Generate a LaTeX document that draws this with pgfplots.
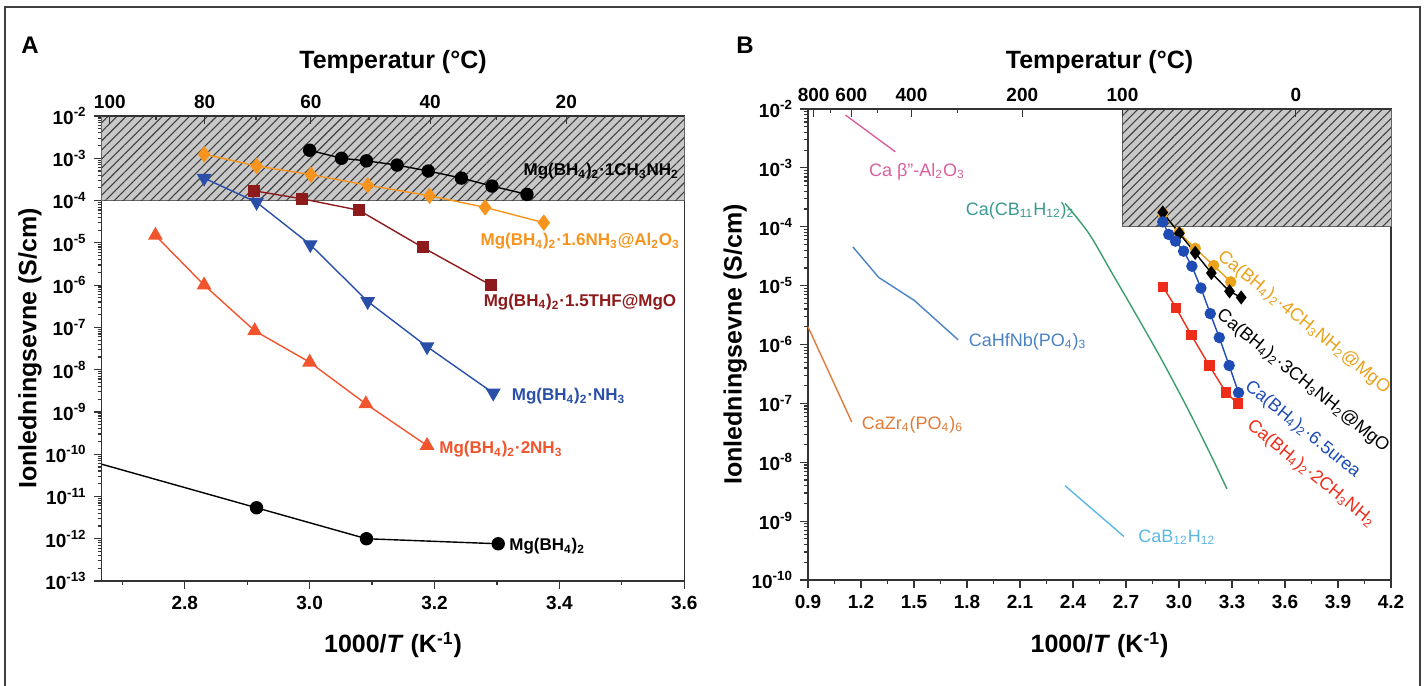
\documentclass[border=0pt]{standalone}
\usepackage{fontspec}
\setmainfont{Liberation Sans}
\usepackage{pgfplots}
\pgfplotsset{compat=1.18}
\usetikzlibrary{patterns.meta}

\definecolor{hatchgray}{HTML}{C8C8C8}
\definecolor{aOrange}{HTML}{F7941D}
\definecolor{aBlue}{HTML}{2A4FA8}
\definecolor{aBrown}{HTML}{8E1B1B}
\definecolor{aRed}{HTML}{F2542D}
\definecolor{bPink}{HTML}{D9609E}
\definecolor{bGreen}{HTML}{3C9E6C}
\definecolor{bTeal}{HTML}{3A9A90}
\definecolor{bHf}{HTML}{4A82C6}
\definecolor{bZr}{HTML}{E07B39}
\definecolor{bSky}{HTML}{5CB6E6}
\definecolor{bOrange}{HTML}{E9A21C}
\definecolor{bBlue}{HTML}{1E4CB4}
\definecolor{bRed}{HTML}{EE2C1A}

% minor ticks 2..9 in every decade
\newcommand\mkminors[3]{%
  \gdef#1{}%
  \foreach \e in {#2,...,#3}{\foreach \m in {2,...,9}{\xdef#1{#1\ifx#1\empty\else,\fi\m e\e}}}}
\mkminors\minorsA{-13}{-3}
\mkminors\minorsB{-10}{-3}

\pgfplotsset{
  common/.style={
    scale only axis, anchor=south west, clip=false,
    major tick length=4pt, minor tick length=2pt,
    every tick/.style={line width=0.6pt, black!80},
    axis line style={line width=0.8pt, black!80},
    tick label style={font=\bfseries\fontsize{9.5}{11}\selectfont},
    label style={font=\bfseries\fontsize{12.5}{14}\selectfont},
  },
}
\tikzset{
  hatch/.style={draw=black!60, line width=0.5pt, fill=hatchgray,
    postaction={pattern={Lines[angle=45,distance=3.2pt,line width=0.55pt]}, pattern color=black!75}},
}

\begin{document}
\begin{tikzpicture}
\useasboundingbox (0pt,0pt) rectangle (713pt,-343pt);
\draw[line width=0.8pt, black!75] (2.5pt,-3.5pt) rectangle (710pt,-360pt);

\node[font=\bfseries\fontsize{12}{14}\selectfont] at (15pt,-22.5pt) {A};
\node[font=\bfseries\fontsize{12}{14}\selectfont] at (372.5pt,-22.5pt) {B};

% ---------------- panel A ----------------
\begin{axis}[common, at={(50.85pt,-290.5pt)}, width=291.3pt, height=232.5pt,
  xmin=2.667, xmax=3.6, ymode=log, log basis y=10, ymin=1e-13, ymax=1e-2,
  tick pos=left, tick align=outside,
  xtick={2.8,3.0,3.2,3.4,3.6}, xticklabels={2.8,3.0,3.2,3.4,3.6},
  minor xtick={2.7,2.9,3.1,3.3,3.5},
  ytick={1e-13,1e-12,1e-11,1e-10,1e-9,1e-8,1e-7,1e-6,1e-5,1e-4,1e-3,1e-2},
  yticklabels={10\textsuperscript{-13},10\textsuperscript{-12},10\textsuperscript{-11},10\textsuperscript{-10},10\textsuperscript{-9},10\textsuperscript{-8},10\textsuperscript{-7},10\textsuperscript{-6},10\textsuperscript{-5},10\textsuperscript{-4},10\textsuperscript{-3},10\textsuperscript{-2}},
  minor ytick/.expanded={\minorsA},
  xlabel={1000/\textit{T} (K\textsuperscript{-1})},
  ylabel={Ionledningsevne (S/cm)},
  xlabel style={at={(axis description cs:0.5,-0.138)}, anchor=center},
  ylabel style={at={(axis description cs:-0.123,0.5)}, anchor=center},
]
\draw[hatch] (axis cs:2.667,1e-4) rectangle (axis cs:3.6,1e-2);

\addplot[color=black, line width=0.7pt, mark=*, mark size=3pt] coordinates {
  (3.000,1.55e-3) (3.051,1.0e-3) (3.091,8.7e-4) (3.140,6.9e-4)
  (3.190,5.0e-4) (3.243,3.4e-4) (3.292,2.2e-4) (3.348,1.4e-4)};
\addplot[color=aOrange, line width=0.7pt, mark=diamond*, mark size=3.6pt] coordinates {
  (2.831,1.25e-3) (2.915,6.6e-4) (3.002,4.1e-4) (3.093,2.3e-4)
  (3.192,1.3e-4) (3.281,6.9e-5) (3.375,3.0e-5)};
\addplot[color=aBrown, line width=0.7pt, mark=square*, mark size=2.6pt] coordinates {
  (2.911,1.7e-4) (2.988,1.1e-4) (3.079,5.9e-5) (3.181,7.8e-6) (3.290,1.0e-6)};
\addplot[color=aBlue, line width=0.7pt, mark=triangle*, mark size=3.6pt, mark options={rotate=180}] coordinates {
  (2.831,3.4e-4) (2.915,9.1e-5) (3.001,9.1e-6) (3.093,4.1e-7) (3.188,3.5e-8) (3.294,2.8e-9)};
\addplot[color=aRed, line width=0.7pt, mark=triangle*, mark size=3.6pt] coordinates {
  (2.753,1.5e-5) (2.831,1.0e-6) (2.912,8.3e-8) (3.000,1.5e-8) (3.090,1.55e-9) (3.188,1.6e-10)};
\addplot[color=black, line width=0.7pt, mark=*, mark size=3pt, mark indices={2,3,4}] coordinates {
  (2.667,5.8e-11) (2.915,5.4e-12) (3.091,1.0e-12) (3.302,7.6e-13)};

\begin{scope}[every node/.style={font=\bfseries\fontsize{8.5}{10}\selectfont, inner sep=1pt}]
\node[anchor=east, text=black] at (axis cs:3.595,5e-4) {Mg(BH\textsubscript{4})\textsubscript{2}·1CH\textsubscript{3}NH\textsubscript{2}};
\node[anchor=west, text=aOrange] at (axis cs:3.270,1.1e-5) {Mg(BH\textsubscript{4})\textsubscript{2}·1.6NH\textsubscript{3}@Al\textsubscript{2}O\textsubscript{3}};
\node[anchor=west, text=aBrown] at (axis cs:3.275,4.0e-7) {Mg(BH\textsubscript{4})\textsubscript{2}·1.5THF@MgO};
\node[anchor=west, text=aBlue] at (axis cs:3.320,2.3e-9) {Mg(BH\textsubscript{4})\textsubscript{2}·NH\textsubscript{3}};
\node[anchor=west, text=aRed] at (axis cs:3.204,1.3e-10) {Mg(BH\textsubscript{4})\textsubscript{2}·2NH\textsubscript{3}};
\node[anchor=west, text=black] at (axis cs:3.316,6.6e-13) {Mg(BH\textsubscript{4})\textsubscript{2}};
\end{scope}
\end{axis}

\begin{axis}[common, at={(50.85pt,-290.5pt)}, width=291.3pt, height=232.5pt,
  xmin=2.667, xmax=3.6, ymin=0, ymax=1,
  axis x line*=top, axis y line=none, tick align=inside,
  xtick={2.680,2.832,3.002,3.193,3.411}, xticklabels={100,80,60,40,20},
  minor xtick={2.754,2.914,3.095,3.299,3.532},
  xlabel={Temperatur (\textdegree C)},
  xlabel style={at={(axis description cs:0.5,1.116)}, anchor=center},
]
\end{axis}

% ---------------- panel B ----------------
\begin{axis}[common, at={(404pt,-290pt)}, width=291.5pt, height=235.5pt,
  xmin=0.9, xmax=4.2, ymode=log, log basis y=10, ymin=1e-10, ymax=1e-2,
  tick pos=left, tick align=outside,
  xtick={0.9,1.2,1.5,1.8,2.1,2.4,2.7,3.0,3.3,3.6,3.9,4.2},
  xticklabels={0.9,1.2,1.5,1.8,2.1,2.4,2.7,3.0,3.3,3.6,3.9,4.2},
  minor xtick={1.05,1.35,1.65,1.95,2.25,2.55,2.85,3.15,3.45,3.75,4.05},
  ytick={1e-10,1e-9,1e-8,1e-7,1e-6,1e-5,1e-4,1e-3,1e-2},
  yticklabels={10\textsuperscript{-10},10\textsuperscript{-9},10\textsuperscript{-8},10\textsuperscript{-7},10\textsuperscript{-6},10\textsuperscript{-5},10\textsuperscript{-4},10\textsuperscript{-3},10\textsuperscript{-2}},
  minor ytick/.expanded={\minorsB},
  xlabel={1000/\textit{T} (K\textsuperscript{-1})},
  ylabel={Ionledningsevne (S/cm)},
  xlabel style={at={(axis description cs:0.5,-0.138)}, anchor=center},
  ylabel style={at={(axis description cs:-0.125,0.5)}, anchor=center},
]
\draw[hatch] (axis cs:2.68,1e-4) rectangle (axis cs:4.2,1e-2);

\addplot[color=bPink, line width=0.7pt] coordinates {(1.112,7.9e-3) (1.394,1.88e-3)};
\addplot[color=bGreen, line width=0.7pt, smooth] coordinates {
  (2.355,2.49e-4) (2.490,7.69e-5) (2.622,1.61e-5) (2.754,3.35e-6)
  (2.904,5.38e-7) (3.054,7.6e-8) (3.186,1.22e-8) (3.271,3.54e-9)};
\addplot[color=bHf, line width=0.7pt] coordinates {
  (1.154,4.55e-5) (1.300,1.38e-5) (1.502,5.6e-6) (1.750,1.2e-6)};
\addplot[color=bZr, line width=0.7pt] coordinates {(0.9,2.0e-6) (1.148,4.8e-8)};
\addplot[color=bSky, line width=0.7pt] coordinates {(2.355,4.0e-9) (2.688,5.5e-10)};

\addplot[color=bOrange, line width=0.7pt, mark=*, mark size=2.5pt] coordinates {
  (2.908,1.7e-4) (3.000,8.0e-5) (3.092,4.3e-5) (3.196,2.2e-5) (3.293,1.16e-5)};
\addplot[color=black, line width=0.7pt, mark=diamond*, mark size=3pt] coordinates {
  (2.908,1.75e-4) (3.002,7.7e-5) (3.092,3.6e-5) (3.183,1.64e-5) (3.286,8.0e-6) (3.352,6.3e-6)};
\addplot[color=bBlue, line width=0.7pt, mark=*, mark size=2.5pt] coordinates {
  (2.908,1.21e-4) (2.942,7.4e-5) (2.980,5.7e-5) (3.026,3.85e-5) (3.073,2.14e-5)
  (3.124,9.1e-6) (3.177,3.35e-6) (3.228,1.31e-6) (3.284,4.4e-7) (3.337,1.52e-7)};
\addplot[color=bRed, line width=0.7pt, mark=square*, mark size=2.3pt] coordinates {
  (2.910,9.5e-6) (2.983,4.2e-6) (3.070,1.44e-6) (3.171,4.4e-7) (3.267,1.52e-7) (3.333,9.9e-8)};

\begin{scope}[every node/.style={font=\fontsize{9}{10}\selectfont, inner sep=1pt}]
\node[anchor=west, text=bPink] at (axis cs:1.232,8.5e-4) {Ca β''-Al\textsubscript{2}O\textsubscript{3}};
\node[anchor=west, text=bTeal] at (axis cs:1.780,1.86e-4) {Ca(CB\textsubscript{11}H\textsubscript{12})\textsubscript{2}};
\node[anchor=west, text=bHf] at (axis cs:1.797,1.12e-6) {CaHfNb(PO\textsubscript{4})\textsubscript{3}};
\node[anchor=west, text=bZr] at (axis cs:1.192,4.3e-8) {CaZr\textsubscript{4}(PO\textsubscript{4})\textsubscript{6}};
\node[anchor=west, text=bSky] at (axis cs:2.757,5.4e-10) {CaB\textsubscript{12}H\textsubscript{12}};
\node[anchor=west, rotate=-39, text=bOrange] at (axis cs:3.220,3.6e-5) {Ca(BH\textsubscript{4})\textsubscript{2}·4CH\textsubscript{3}NH\textsubscript{2}@MgO};
\node[anchor=west, rotate=-39, text=black] at (axis cs:3.215,3.6e-6) {Ca(BH\textsubscript{4})\textsubscript{2}·3CH\textsubscript{3}NH\textsubscript{2}@MgO};
\node[anchor=west, rotate=-39, text=bBlue] at (axis cs:3.375,2.2e-7) {Ca(BH\textsubscript{4})\textsubscript{2}·6.5urea};
\node[anchor=west, rotate=-39, text=bRed] at (axis cs:3.387,4.8e-8) {Ca(BH\textsubscript{4})\textsubscript{2}·2CH\textsubscript{3}NH\textsubscript{2}};
\end{scope}
\end{axis}

\begin{axis}[common, at={(404pt,-290pt)}, width=291.5pt, height=235.5pt,
  xmin=0.9, xmax=4.2, ymin=0, ymax=1,
  axis x line*=top, axis y line=none, tick align=inside,
  xtick={0.932,1.145,1.486,2.113,2.680,3.661}, xticklabels={800,600,400,200,100,0},
  minor xtick={1.029,1.293,1.745},
  xlabel={Temperatur (\textdegree C)},
  xlabel style={at={(axis description cs:0.5,1.10)}, anchor=center},
]
\end{axis}
\end{tikzpicture}
\end{document}
